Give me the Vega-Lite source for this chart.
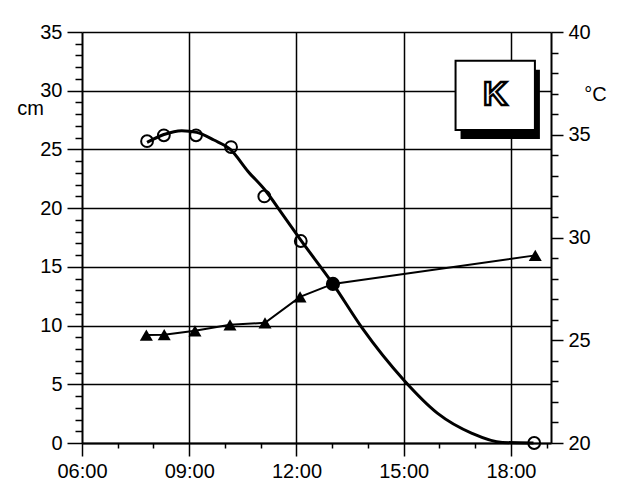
{
  "$schema": "https://vega.github.io/schema/vega-lite/v6.json",
  "width": 469,
  "height": 411,
  "autosize": {"type": "none"},
  "padding": {"left": 82, "top": 32, "right": 75, "bottom": 46},
  "background": "white",
  "config": {
    "view": {"stroke": null},
    "font": "Liberation Sans",
    "axis": {
      "domainColor": "black",
      "domainWidth": 2,
      "tickColor": "black",
      "tickWidth": 1.5,
      "gridColor": "black",
      "gridWidth": 1.5,
      "labelColor": "black",
      "labelFont": "Liberation Sans",
      "labelFontSize": 20,
      "labelOverlap": false,
      "labelFlush": false,
      "titleFont": "Liberation Sans",
      "titleFontSize": 20,
      "titleFontWeight": "normal",
      "titleColor": "black"
    }
  },
  "datasets": {
    "circles": [
      {"time": 7.82, "cm": 25.7},
      {"time": 8.29, "cm": 26.2},
      {"time": 9.19, "cm": 26.2},
      {"time": 10.17, "cm": 25.2},
      {"time": 11.1, "cm": 21.0},
      {"time": 12.12, "cm": 17.2},
      {"time": 18.65, "cm": 0}
    ],
    "curve": [
      {"time": 7.82, "cm": 25.6},
      {"time": 8.29, "cm": 26.27},
      {"time": 8.79, "cm": 26.6},
      {"time": 9.21, "cm": 26.45},
      {"time": 9.69, "cm": 25.8},
      {"time": 10.15, "cm": 25.0},
      {"time": 10.64, "cm": 23.15},
      {"time": 11.13, "cm": 21.5},
      {"time": 11.59, "cm": 19.56},
      {"time": 12.09, "cm": 17.4},
      {"time": 13.02, "cm": 13.55},
      {"time": 13.84, "cm": 9.78},
      {"time": 15.0, "cm": 5.37},
      {"time": 15.94, "cm": 2.55},
      {"time": 16.91, "cm": 0.83},
      {"time": 17.76, "cm": 0.05},
      {"time": 18.63, "cm": 0}
    ],
    "temperature": [
      {"time": 7.8, "temp": 25.25},
      {"time": 8.3, "temp": 25.27},
      {"time": 9.16, "temp": 25.46},
      {"time": 10.14, "temp": 25.75},
      {"time": 11.12, "temp": 25.85},
      {"time": 12.1, "temp": 27.11},
      {"time": 13.02, "temp": 27.74},
      {"time": 18.68, "temp": 29.13}
    ]
  },
  "layer": [
    {
      "layer": [
        {
          "data": {"name": "curve"},
          "mark": {"type": "line", "color": "black", "strokeWidth": 3, "interpolate": "monotone"},
          "encoding": {
            "x": {
              "field": "time", "type": "quantitative",
              "scale": {"domain": [6, 19.12], "nice": false, "zero": false},
              "axis": {"values": [6,7,8,9,10,11,12,13,14,15,16,17,18,19], "labelExpr": "datum.value % 3 === 0 ? (datum.value < 10 ? '0' : '') + datum.value + ':00' : ''", "tickSize": {"condition": {"test": "datum.value % 3 === 0", "value": 13}, "value": 5}, "grid": true, "gridOpacity": {"condition": {"test": "datum.value % 3 === 0 && datum.value > 6", "value": 1}, "value": 0}, "labelPadding": 5, "title": null}
            },
            "y": {
              "field": "cm", "type": "quantitative",
              "scale": {"domain": [0, 35], "nice": false, "zero": true},
              "axis": {"orient": "left", "values": [0,1,2,3,4,5,6,7,8,9,10,11,12,13,14,15,16,17,18,19,20,21,22,23,24,25,26,27,28,29,30,31,32,33,34,35], "labelExpr": "datum.value % 5 === 0 ? datum.label : ''", "tickSize": {"condition": {"test": "datum.value % 5 === 0", "value": 15}, "value": 7}, "grid": true, "gridOpacity": {"condition": {"test": "datum.value % 5 === 0", "value": 1}, "value": 0}, "labelPadding": 5, "title": "cm", "titleAngle": 0, "titleX": -52, "titleY": 76, "titleAlign": "center", "titleBaseline": "middle"}
            }
          }
        },
        {
          "data": {"name": "circles"},
          "mark": {"type": "point", "shape": "circle", "filled": false, "color": "black", "strokeWidth": 2, "size": 140, "opacity": 1},
          "encoding": {
            "x": {"field": "time", "type": "quantitative",
              "axis": {"values": [6,7,8,9,10,11,12,13,14,15,16,17,18,19], "labelExpr": "datum.value % 3 === 0 ? (datum.value < 10 ? '0' : '') + datum.value + ':00' : ''", "tickSize": {"condition": {"test": "datum.value % 3 === 0", "value": 13}, "value": 5}, "grid": true, "gridOpacity": {"condition": {"test": "datum.value % 3 === 0 && datum.value > 6", "value": 1}, "value": 0}, "labelPadding": 5, "title": null}},
            "y": {"field": "cm", "type": "quantitative",
              "axis": {"orient": "left", "values": [0,1,2,3,4,5,6,7,8,9,10,11,12,13,14,15,16,17,18,19,20,21,22,23,24,25,26,27,28,29,30,31,32,33,34,35], "labelExpr": "datum.value % 5 === 0 ? datum.label : ''", "tickSize": {"condition": {"test": "datum.value % 5 === 0", "value": 15}, "value": 7}, "grid": true, "gridOpacity": {"condition": {"test": "datum.value % 5 === 0", "value": 1}, "value": 0}, "labelPadding": 5, "title": "cm", "titleAngle": 0, "titleX": -52, "titleY": 76, "titleAlign": "center", "titleBaseline": "middle"}}
          }
        },
        {
          "data": {"values": [{}]},
          "mark": {"type": "rect", "color": "black", "xOffset": 5, "x2Offset": 5, "yOffset": 9, "y2Offset": 9},
          "encoding": {
            "x": {"datum": 16.45, "type": "quantitative",
              "axis": {"values": [6,7,8,9,10,11,12,13,14,15,16,17,18,19], "labelExpr": "datum.value % 3 === 0 ? (datum.value < 10 ? '0' : '') + datum.value + ':00' : ''", "tickSize": {"condition": {"test": "datum.value % 3 === 0", "value": 13}, "value": 5}, "grid": true, "gridOpacity": {"condition": {"test": "datum.value % 3 === 0 && datum.value > 6", "value": 1}, "value": 0}, "labelPadding": 5, "title": null}},
            "x2": {"datum": 18.67},
            "y": {"datum": 32.55, "type": "quantitative",
              "axis": {"orient": "left", "values": [0,1,2,3,4,5,6,7,8,9,10,11,12,13,14,15,16,17,18,19,20,21,22,23,24,25,26,27,28,29,30,31,32,33,34,35], "labelExpr": "datum.value % 5 === 0 ? datum.label : ''", "tickSize": {"condition": {"test": "datum.value % 5 === 0", "value": 15}, "value": 7}, "grid": true, "gridOpacity": {"condition": {"test": "datum.value % 5 === 0", "value": 1}, "value": 0}, "labelPadding": 5, "title": "cm", "titleAngle": 0, "titleX": -52, "titleY": 76, "titleAlign": "center", "titleBaseline": "middle"}},
            "y2": {"datum": 26.65}
          }
        },
        {
          "data": {"values": [{}]},
          "mark": {"type": "rect", "fill": "white", "stroke": "black", "strokeWidth": 2},
          "encoding": {
            "x": {"datum": 16.45, "type": "quantitative",
              "axis": {"values": [6,7,8,9,10,11,12,13,14,15,16,17,18,19], "labelExpr": "datum.value % 3 === 0 ? (datum.value < 10 ? '0' : '') + datum.value + ':00' : ''", "tickSize": {"condition": {"test": "datum.value % 3 === 0", "value": 13}, "value": 5}, "grid": true, "gridOpacity": {"condition": {"test": "datum.value % 3 === 0 && datum.value > 6", "value": 1}, "value": 0}, "labelPadding": 5, "title": null}},
            "x2": {"datum": 18.67},
            "y": {"datum": 32.55, "type": "quantitative",
              "axis": {"orient": "left", "values": [0,1,2,3,4,5,6,7,8,9,10,11,12,13,14,15,16,17,18,19,20,21,22,23,24,25,26,27,28,29,30,31,32,33,34,35], "labelExpr": "datum.value % 5 === 0 ? datum.label : ''", "tickSize": {"condition": {"test": "datum.value % 5 === 0", "value": 15}, "value": 7}, "grid": true, "gridOpacity": {"condition": {"test": "datum.value % 5 === 0", "value": 1}, "value": 0}, "labelPadding": 5, "title": "cm", "titleAngle": 0, "titleX": -52, "titleY": 76, "titleAlign": "center", "titleBaseline": "middle"}},
            "y2": {"datum": 26.65}
          }
        },
        {
          "data": {"values": [{"label": "K"}]},
          "mark": {"type": "text", "font": "Liberation Sans", "fontSize": 34, "fontWeight": "bold", "fill": "white", "stroke": "black", "strokeWidth": 2.5, "align": "center", "baseline": "middle"},
          "encoding": {
            "x": {"datum": 17.56, "type": "quantitative",
              "axis": {"values": [6,7,8,9,10,11,12,13,14,15,16,17,18,19], "labelExpr": "datum.value % 3 === 0 ? (datum.value < 10 ? '0' : '') + datum.value + ':00' : ''", "tickSize": {"condition": {"test": "datum.value % 3 === 0", "value": 13}, "value": 5}, "grid": true, "gridOpacity": {"condition": {"test": "datum.value % 3 === 0 && datum.value > 6", "value": 1}, "value": 0}, "labelPadding": 5, "title": null}},
            "y": {"datum": 29.6, "type": "quantitative",
              "axis": {"orient": "left", "values": [0,1,2,3,4,5,6,7,8,9,10,11,12,13,14,15,16,17,18,19,20,21,22,23,24,25,26,27,28,29,30,31,32,33,34,35], "labelExpr": "datum.value % 5 === 0 ? datum.label : ''", "tickSize": {"condition": {"test": "datum.value % 5 === 0", "value": 15}, "value": 7}, "grid": true, "gridOpacity": {"condition": {"test": "datum.value % 5 === 0", "value": 1}, "value": 0}, "labelPadding": 5, "title": "cm", "titleAngle": 0, "titleX": -52, "titleY": 76, "titleAlign": "center", "titleBaseline": "middle"}},
            "text": {"field": "label"}
          }
        }
      ]
    },
    {
      "data": {"name": "temperature"},
      "layer": [
        {
          "mark": {"type": "line", "color": "black", "strokeWidth": 2},
          "encoding": {
            "x": {"field": "time", "type": "quantitative",
              "axis": {"values": [6,7,8,9,10,11,12,13,14,15,16,17,18,19], "labelExpr": "datum.value % 3 === 0 ? (datum.value < 10 ? '0' : '') + datum.value + ':00' : ''", "tickSize": {"condition": {"test": "datum.value % 3 === 0", "value": 13}, "value": 5}, "grid": true, "gridOpacity": {"condition": {"test": "datum.value % 3 === 0 && datum.value > 6", "value": 1}, "value": 0}, "labelPadding": 5, "title": null}},
            "y": {
              "field": "temp", "type": "quantitative",
              "scale": {"domain": [20, 40], "nice": false, "zero": false},
              "axis": {"orient": "right", "values": [20,21,22,23,24,25,26,27,28,29,30,31,32,33,34,35,36,37,38,39,40], "labelExpr": "datum.value % 5 === 0 ? datum.label : ''", "tickSize": {"condition": {"test": "datum.value % 5 === 0", "value": 12}, "value": 7}, "grid": false, "labelPadding": 5, "title": "°C", "titleAngle": 0, "titleX": 44, "titleY": 62, "titleAlign": "center", "titleBaseline": "middle"}
            }
          }
        },
        {
          "mark": {"type": "point", "filled": true, "color": "black", "opacity": 1},
          "encoding": {
            "x": {"field": "time", "type": "quantitative",
              "axis": {"values": [6,7,8,9,10,11,12,13,14,15,16,17,18,19], "labelExpr": "datum.value % 3 === 0 ? (datum.value < 10 ? '0' : '') + datum.value + ':00' : ''", "tickSize": {"condition": {"test": "datum.value % 3 === 0", "value": 13}, "value": 5}, "grid": true, "gridOpacity": {"condition": {"test": "datum.value % 3 === 0 && datum.value > 6", "value": 1}, "value": 0}, "labelPadding": 5, "title": null}},
            "y": {"field": "temp", "type": "quantitative",
              "axis": {"orient": "right", "values": [20,21,22,23,24,25,26,27,28,29,30,31,32,33,34,35,36,37,38,39,40], "labelExpr": "datum.value % 5 === 0 ? datum.label : ''", "tickSize": {"condition": {"test": "datum.value % 5 === 0", "value": 12}, "value": 7}, "grid": false, "labelPadding": 5, "title": "°C", "titleAngle": 0, "titleX": 44, "titleY": 62, "titleAlign": "center", "titleBaseline": "middle"}},
            "shape": {"condition": {"test": "datum.time > 12.9 && datum.time < 13.1", "value": "circle"}, "value": "triangle-up"},
            "size": {"condition": {"test": "datum.time > 12.9 && datum.time < 13.1", "value": 200}, "value": 170}
          }
        }
      ]
    }
  ],
  "resolve": {"scale": {"y": "independent"}}
}
